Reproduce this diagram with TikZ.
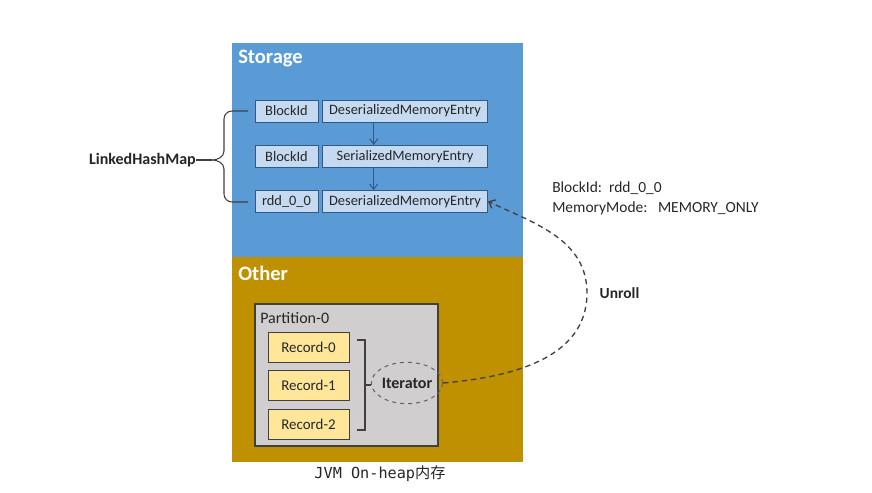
\documentclass[tikz,border=0pt]{standalone}
\usepackage{fontspec}
\setmainfont{Carlito}
\setmonofont{DejaVu Sans Mono}
\newfontfamily\cjk{Noto Sans CJK SC}
\usepackage{xcolor}
\usetikzlibrary{arrows.meta,positioning,shapes.geometric}
\definecolor{storageblue}{HTML}{5B9BD5}
\definecolor{othergold}{HTML}{BF9000}
\definecolor{entryfill}{HTML}{C5DAF0}
\definecolor{entryline}{HTML}{2F5A8A}
\definecolor{partfill}{HTML}{D0CECE}
\definecolor{recfill}{HTML}{FFE699}
\definecolor{darkline}{HTML}{404040}

\begin{document}
\begin{tikzpicture}[x=0.75pt,y=-0.75pt,
    txt/.style={font=\fontsize{10.8}{13}\selectfont, text=black!85},
    boldtxt/.style={font=\fontsize{12}{14}\selectfont\bfseries, text=black!85},
    title/.style={font=\fontsize{15.4}{18}\selectfont\bfseries, text=white, inner sep=0pt},
    keybox/.style={txt, draw=entryline, fill=entryfill, minimum width=47pt, minimum height=16.5pt, inner sep=0pt},
    entrybox/.style={keybox, minimum width=124pt},
    recbox/.style={txt, font=\fontsize{11.2}{13}\selectfont, draw=darkline, fill=recfill, minimum width=61pt, minimum height=22.5pt, inner sep=0pt},
    link/.style={-{Straight Barb[length=4pt,width=6pt]}, entryline, thick},
    brace/.style={darkline, line width=0.8pt},
    unroll/.style={-{Straight Barb[length=4pt,width=7pt]}, darkline, dashed, line width=1pt, dash pattern=on 4pt off 3pt}]
  \useasboundingbox (0,0) rectangle (872,493);
  \fill[storageblue] (232,43) rectangle (523,257);
  \fill[othergold] (232,257) rectangle (523,462);
  \node[title, anchor=west] (storage) at (238,59) {Storage};
  \node[title, anchor=west] (other) at (238,273) {Other};

  \node[keybox] (k1) at (286.5,111) {BlockId};
  \node[entrybox, right=3pt of k1] (e1) {DeserializedMemoryEntry};
  \node[keybox, below=17pt of k1] (k2) {BlockId};
  \node[entrybox, right=3pt of k2] (e2) {SerializedMemoryEntry};
  \node[keybox, below=17pt of k2] (k3) {rdd\_0\_0};
  \node[entrybox, right=3pt of k3] (e3) {DeserializedMemoryEntry};
  \draw[link] ([xshift=-23.5pt]e1.south) -- ([xshift=-23.5pt]e2.north);
  \draw[link] ([xshift=-23.5pt]e2.south) -- ([xshift=-23.5pt]e3.north);

  \node[boldtxt, anchor=east, inner sep=0pt] (lhm) at (196,160) {LinkedHashMap};
  \draw[brace] (248,111) -- (232,111) to[out=180,in=90] (224,119) -- (224,151) to[out=270,in=0] (212,160)
    to[out=0,in=90] (224,169) -- (224,194) to[out=270,in=180] (232,202) -- (248,202);
  \draw[brace] (lhm.east) -- (212,160);

  \draw[darkline, fill=partfill, thick] (255,304) rectangle (438,446);
  \node[txt, font=\fontsize{12}{14}\selectfont, anchor=west, inner sep=0pt] (part) at (260,318) {Partition-0};
  \node[recbox] (r0) at (308.5,347) {Record-0};
  \node[recbox, below=6pt of r0] (r1) {Record-1};
  \node[recbox, below=6pt of r1] (r2) {Record-2};
  \draw[brace] (357,340) -- (365,340) -- (365,430) -- (357,430);
  \draw[brace] (365,385) -- (371,385);
  \node[boldtxt, ellipse, draw=darkline!80, dashed, line width=0.8pt,
    minimum width=47pt, minimum height=31pt, inner sep=0pt] (it) at (407,383) {Iterator};

  \coordinate (u) at (587,293);
  \draw[unroll] (it.east) to[out=5,in=270] (u) to[out=90,in=-25] (e3.east);
  \node[boldtxt, font=\fontsize{11.6}{14}\selectfont\bfseries, anchor=west] (unrolltxt) at (595,293) {Unroll};
  \node[txt, font=\fontsize{11.6}{14}\selectfont, anchor=west, inner sep=0pt] (bid) at (552,188) {BlockId:\ \ rdd\_0\_0};
  \node[txt, font=\fontsize{11.6}{14}\selectfont, anchor=west, inner sep=0pt] (mode) at (552,208) {MemoryMode:\ \ \ MEMORY\_ONLY};

  \node[txt, font=\fontsize{11.4}{14}\ttfamily] (jvm) at (380,474) {JVM On-heap{\cjk 内存}};
\end{tikzpicture}
\end{document}
